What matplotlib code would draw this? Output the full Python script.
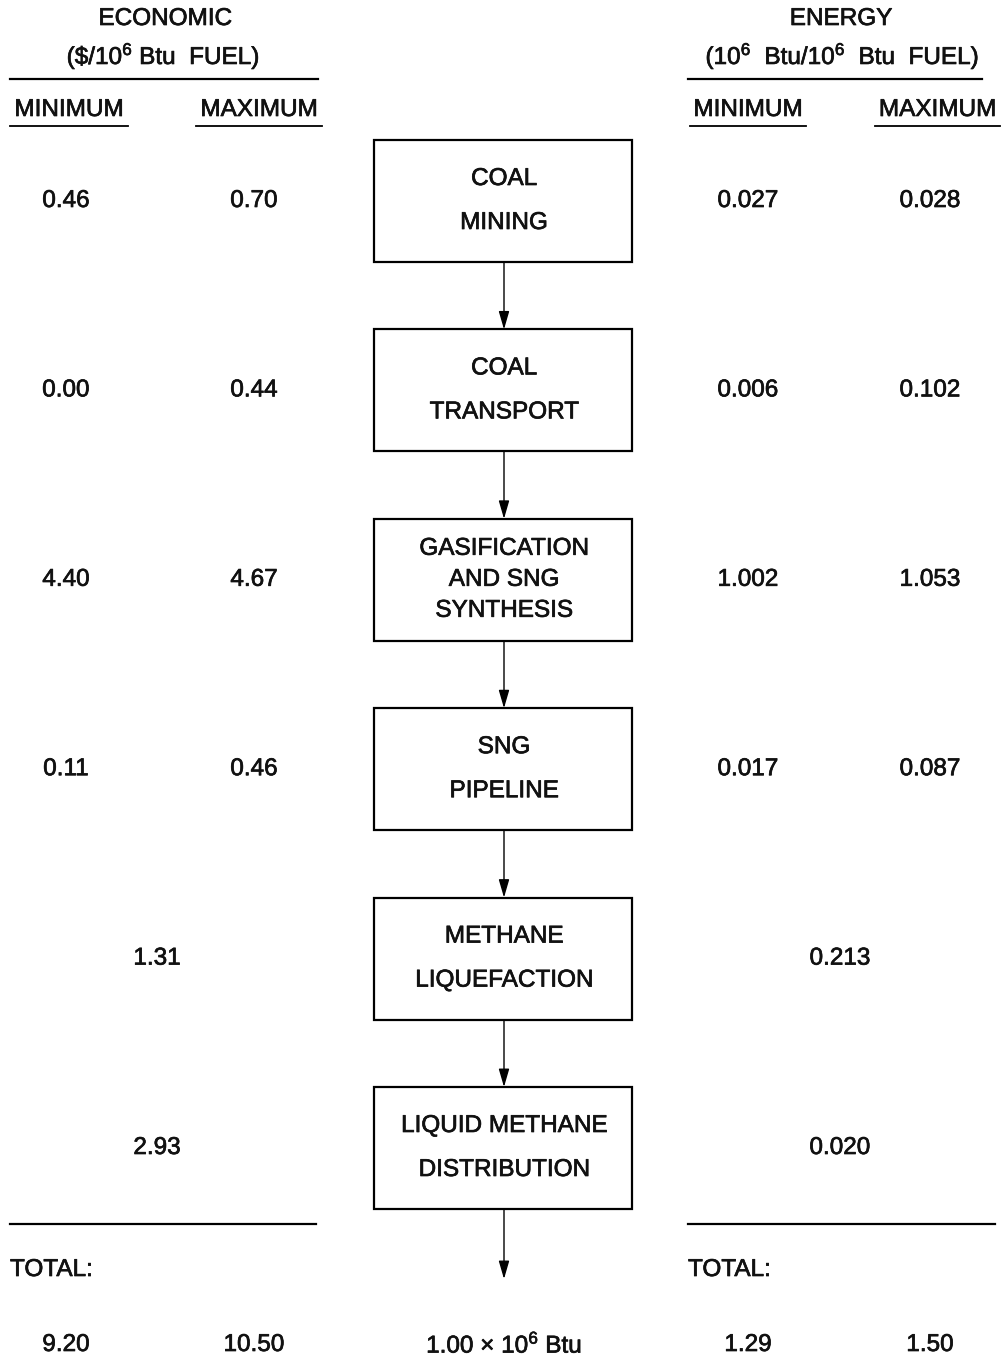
import matplotlib
matplotlib.use("Agg")
import matplotlib.pyplot as plt
import matplotlib.patheffects as pe
from matplotlib.patches import Rectangle

plt.rcParams["font.family"] = ["Liberation Sans", "DejaVu Sans"]
plt.rcParams["mathtext.fontset"] = "custom"
plt.rcParams["mathtext.rm"] = "Liberation Sans"
plt.rcParams["mathtext.default"] = "regular"

# stages of the coal -> liquid methane chain
stages = [
    ["COAL", "MINING"],
    ["COAL", "TRANSPORT"],
    ["GASIFICATION", "AND SNG", "SYNTHESIS"],
    ["SNG", "PIPELINE"],
    ["METHANE", "LIQUEFACTION"],
    ["LIQUID METHANE", "DISTRIBUTION"],
]
# economic cost, $/10^6 Btu fuel
econ_min = [0.46, 0.00, 4.40, 0.11, 1.31, 2.93]
econ_max = [0.70, 0.44, 4.67, 0.46, 1.31, 2.93]
# energy cost, 10^6 Btu / 10^6 Btu fuel
energy_min = [0.027, 0.006, 1.002, 0.017, 0.213, 0.020]
energy_max = [0.028, 0.102, 1.053, 0.087, 0.213, 0.020]
econ_total = [9.20, 10.50]
energy_total = [1.29, 1.50]
output_label = "1.00 \u00d7 10$^6$ Btu"

W, H = 1004, 1361
fig = plt.figure(figsize=(W / 100, H / 100), dpi=100)
ax = fig.add_axes([0, 0, 1, 1])
ax.set_xlim(0, W)
ax.set_ylim(H, 0)
ax.axis("off")

fs = 17.5
heavy = [pe.withStroke(linewidth=0.5, foreground="#111111")]
txt = dict(fontsize=fs, color="#111111", ha="center", va="center", path_effects=heavy)

# column layout
x_emin, x_emax, x_emid = 66, 254, 157
x_nmin, x_nmax, x_nmid = 748, 930, 840
x_box0, x_box1 = 374, 632
x_c = (x_box0 + x_box1) / 2
row0, row_step, box_h = 201, 189.4, 122

# headers
ax.text(165, 19, "ECONOMIC", **txt)
ax.text(163, 56, r"(\$/10$^6$ Btu  FUEL)", **txt)
ax.plot([10, 318], [79, 79], color="k", lw=1.6)
ax.text(841, 19, "ENERGY", **txt)
ax.text(842, 56, "(10$^6$  Btu/10$^6$  Btu  FUEL)", **txt)
ax.plot([688, 982], [79, 79], color="k", lw=1.6)
for xl, xr in [(10, 128), (196, 322), (690, 806), (875, 1000)]:
    ax.text((xl + xr) / 2, 110, "MINIMUM" if xl in (10, 690) else "MAXIMUM", **txt)
    ax.plot([xl, xr], [126, 126], color="k", lw=1.3)

for i, lines in enumerate(stages):
    yc = row0 + i * row_step
    ax.add_patch(Rectangle((x_box0, yc - box_h / 2), x_box1 - x_box0, box_h,
                           fill=False, ec="k", lw=1.6))
    gap = 44 if len(lines) == 2 else 31
    for j, s in enumerate(lines):
        ax.text(x_c + 1, yc + (j - (len(lines) - 1) / 2) * gap, s, **txt)
    # arrow down to next box (or to output)
    y_next = yc + row_step - box_h / 2 if i < len(stages) - 1 else yc + box_h / 2 + 70
    ax.annotate("", xy=(x_c + 1, y_next), xytext=(x_c + 1, yc + box_h / 2),
                arrowprops=dict(arrowstyle="-|>,head_length=0.55,head_width=0.16",
                                mutation_scale=20, color="k", lw=1.0,
                                shrinkA=0, shrinkB=0))

    if econ_min[i] == econ_max[i]:
        ax.text(x_emid, yc, f"{econ_min[i]:.2f}", **txt)
    else:
        ax.text(x_emin, yc, f"{econ_min[i]:.2f}", **txt)
        ax.text(x_emax, yc, f"{econ_max[i]:.2f}", **txt)
    if energy_min[i] == energy_max[i]:
        ax.text(x_nmid, yc, f"{energy_min[i]:.3f}", **txt)
    else:
        ax.text(x_nmin, yc, f"{energy_min[i]:.3f}", **txt)
        ax.text(x_nmax, yc, f"{energy_max[i]:.3f}", **txt)

# totals
ax.plot([10, 316], [1224, 1224], color="k", lw=1.6)
ax.plot([688, 995], [1224, 1224], color="k", lw=1.6)
left = dict(txt, ha="left")
ax.text(10, 1270, "TOTAL:", **left)
ax.text(688, 1270, "TOTAL:", **left)
ax.text(x_emin, 1345, f"{econ_total[0]:.2f}", **txt)
ax.text(x_emax, 1345, f"{econ_total[1]:.2f}", **txt)
ax.text(x_nmin, 1345, f"{energy_total[0]:.2f}", **txt)
ax.text(x_nmax, 1345, f"{energy_total[1]:.2f}", **txt)
ax.text(x_c + 1, 1345, output_label, **txt)

fig.savefig("out.png", dpi=100, facecolor="white")
